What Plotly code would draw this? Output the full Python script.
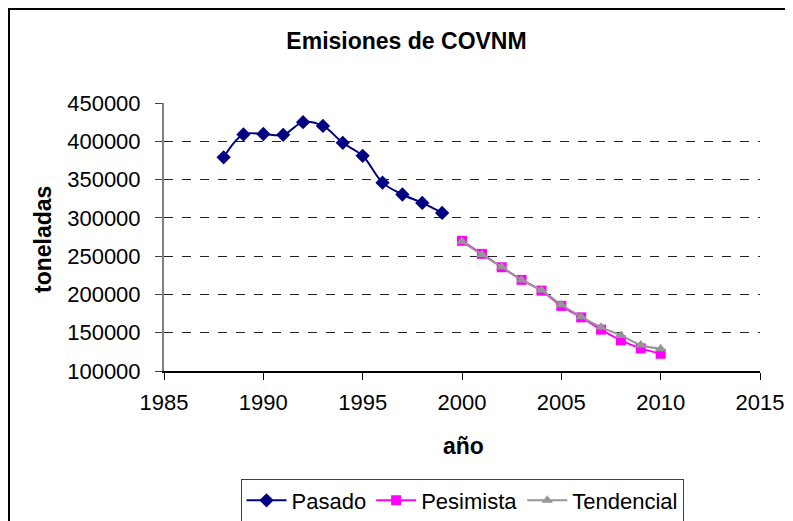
import plotly.graph_objects as go

years_past = [1988, 1989, 1990, 1991, 1992, 1993, 1994, 1995, 1996, 1997, 1998, 1999]
pasado = [379000, 409000, 409500, 408500, 425000, 420000, 398000, 381000, 346000, 330500, 319500, 306500]

years_future = [2000, 2001, 2002, 2003, 2004, 2005, 2006, 2007, 2008, 2009, 2010]
pesimista = [270000, 253000, 235500, 219000, 205000, 185000, 170000, 154000, 140000, 129500, 122500]
tendencial = [269000, 252000, 236000, 219000, 205500, 186500, 171000, 157000, 146500, 134000, 129000]

x_ticks = [1985, 1990, 1995, 2000, 2005, 2010, 2015]
y_ticks = [100000, 150000, 200000, 250000, 300000, 350000, 400000, 450000]

FONT = "Liberation Sans, Arial, sans-serif"

# the page body adds an 8px offset; layout numbers below are in figure pixels
W, H = 793, 521
L, T = 156, 95
PW, PH = 596, 268


def px_x(fx):
    return (fx - L) / PW


def px_y(fy):
    return 1 - (fy - T) / PH


fig = go.Figure()
fig.add_trace(go.Scatter(
    x=years_past, y=pasado, name="Pasado", mode="lines+markers",
    line=dict(color="#000080", width=2, shape="spline", smoothing=1.0),
    marker=dict(symbol="diamond", size=11, color="#000080"),
))
fig.add_trace(go.Scatter(
    x=years_future, y=pesimista, name="Pesimista", mode="lines+markers",
    line=dict(color="#FF00FF", width=2, shape="spline", smoothing=0.9),
    marker=dict(symbol="square", size=10, color="#FF00FF"),
))
fig.add_trace(go.Scatter(
    x=years_future, y=tendencial, name="Tendencial", mode="lines+markers",
    line=dict(color="#969696", width=2, shape="spline", smoothing=0.9),
    marker=dict(symbol="triangle-up", size=10, color="#969696"),
))

fig.update_layout(
    width=W, height=H,
    margin=dict(l=L, r=W - L - PW, t=T, b=H - T - PH, autoexpand=False),
    paper_bgcolor="white", plot_bgcolor="white",
    font=dict(family=FONT, size=22, color="black"),
    title=dict(text="<b>Emisiones de COVNM</b>", xref="container", yref="container",
               x=398.5 / W, y=1 - 33 / H, xanchor="center", yanchor="middle",
               font=dict(family=FONT, size=23, color="black")),
    showlegend=True,
    legend=dict(orientation="h", x=px_x(454), xanchor="center", y=px_y(492.5), yanchor="middle",
                bordercolor="#404040", borderwidth=1, bgcolor="white",
                font=dict(family=FONT, size=22, color="black"),
                itemwidth=40, tracegroupgap=0),
)

fig.update_xaxes(
    range=[1985, 2015], tickvals=x_ticks, ticktext=[str(v) for v in x_ticks],
    showgrid=False, zeroline=False,
    showline=True, linecolor="black", linewidth=1.5,
    ticks="outside", ticklen=7, tickcolor="black", tickwidth=1,
    ticklabelstandoff=4,
    tickfont=dict(family=FONT, size=22, color="black"),
)
fig.update_yaxes(
    range=[100000, 450000], tickvals=y_ticks, ticktext=[str(v) for v in y_ticks],
    showgrid=True, gridcolor="#222222", gridwidth=1, griddash="dash",
    zeroline=False,
    showline=True, linecolor="#808080", linewidth=2,
    ticks="outside", ticklen=7, tickcolor="#404040", tickwidth=1,
    ticklabelstandoff=10,
    tickfont=dict(family=FONT, size=22, color="black"),
)

fig.add_annotation(text="<b>toneladas</b>", xref="paper", yref="paper",
                   x=px_x(35), y=px_y(231), textangle=-90,
                   showarrow=False, xanchor="center", yanchor="middle",
                   font=dict(family=FONT, size=23, color="black"))
fig.add_annotation(text="<b>año</b>", xref="paper", yref="paper",
                   x=px_x(455), y=px_y(438),
                   showarrow=False, xanchor="center", yanchor="middle",
                   font=dict(family=FONT, size=23, color="black"))

# outer chart frame
fig.add_shape(type="rect", xref="paper", yref="paper",
              x0=px_x(1), x1=px_x(900), y0=px_y(700), y1=px_y(1),
              line=dict(color="black", width=2), layer="below")

fig.write_html("out.html")
